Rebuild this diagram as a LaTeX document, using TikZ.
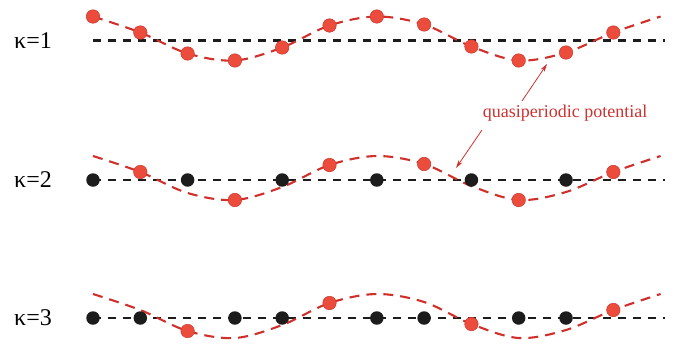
\documentclass[tikz,border=0pt]{standalone}
\usepackage{fontspec}
\setmainfont{Liberation Serif}
\usetikzlibrary{arrows.meta}
\definecolor{curvered}{RGB}{208,48,44}
\definecolor{dotred}{RGB}{236,76,60}
\definecolor{dotedge}{RGB}{205,55,45}
\definecolor{dotblack}{RGB}{28,28,28}
\definecolor{labelred}{RGB}{205,50,48}
\begin{document}
\begin{tikzpicture}[x=1pt,y=-1pt,
  axisline/.style={draw=dotblack, line width=2.3pt, dash pattern=on 8pt off 7pt},
  potential/.style={draw=curvered, line width=2.1pt, dash pattern=on 10pt off 7pt},
  reddot/.style={circle, fill=dotred, draw=dotedge, line width=0.5pt, minimum size=13.5pt, inner sep=0pt},
  blackdot/.style={circle, fill=dotblack, minimum size=13.5pt, inner sep=0pt},
  kappa/.style={font=\fontsize{24}{24}\selectfont, text=black, anchor=west, inner sep=0pt},
  annot/.style={text=labelred, font=\fontsize{18}{18}\selectfont, inner sep=0pt},
  pointer/.style={draw=labelred, line width=0.8pt, -{Stealth[length=8pt,width=4.5pt]}}]
\useasboundingbox (0,0) rectangle (679,343);

% curve points for the three rows
\foreach \r/\yb in {1/40.5,2/180,3/318}{
  \foreach \o [count=\i from 0] in {24,8,-13,-20,-7,15,24,16,-6,-20,-12,8,24}{
    \coordinate (p\r-\i) at ({93+47.3*\i},{\yb-\o});
  }
  \coordinate (a\r-s) at (93,\yb);
  \coordinate (a\r-e) at (665,\yb);
}

% lattice lines
\foreach \r in {1,2,3}{
  \draw[axisline] (a\r-s) -- (a\r-e);
}

% quasiperiodic potential curves
\foreach \r in {1,2,3}{
  \draw[potential] plot[smooth, tension=0.55] coordinates {(p\r-0) (p\r-1) (p\r-2) (p\r-3) (p\r-4) (p\r-5) (p\r-6) (p\r-7) (p\r-8) (p\r-9) (p\r-10) (p\r-11) (p\r-12)};
}

% row 1: all sites red
\foreach \i in {0,...,11}{
  \node[reddot] (d1-\i) at (p1-\i) {};
}
% row 2: every second site red
\foreach \i in {0,2,4,6,8,10}{
  \node[blackdot] (d2-\i) at (a2-s -| p2-\i) {};
}
\foreach \i in {1,3,5,7,9,11}{
  \node[reddot] (d2-\i) at (p2-\i) {};
}
% row 3: every third site red
\foreach \i in {0,1,3,4,6,7,9,10}{
  \node[blackdot] (d3-\i) at (a3-s -| p3-\i) {};
}
\foreach \i in {2,5,8,11}{
  \node[reddot] (d3-\i) at (p3-\i) {};
}

% labels
\node[kappa] (k1) at (14,41) {κ=1};
\node[kappa] (k2) at (14,180) {κ=2};
\node[kappa] (k3) at (14,318) {κ=3};

\node[annot] (qp) at (565,113) {quasiperiodic potential};
\coordinate (s1) at (522,101);
\coordinate (t1) at (547,64);
\coordinate (s2) at (482,130);
\coordinate (t2) at (456,168);
\draw[pointer] (s1) -- (t1);
\draw[pointer] (s2) -- (t2);
\end{tikzpicture}
\end{document}
